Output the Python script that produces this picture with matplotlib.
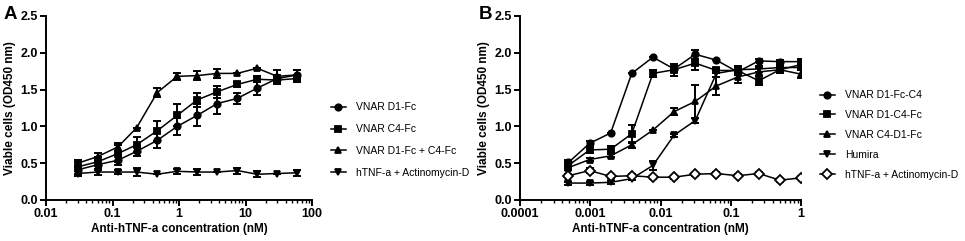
import matplotlib
matplotlib.use("Agg")
import matplotlib.pyplot as plt
from matplotlib.ticker import FuncFormatter, LogLocator

plt.rcParams['font.family'] = ['Liberation Sans', 'DejaVu Sans']

# panel A data
conc_a = [0.03, 0.06, 0.12, 0.23, 0.47, 0.94, 1.88, 3.75, 7.5, 15, 30, 60]
d1_fc = [0.41, 0.48, 0.54, 0.66, 0.81, 1.00, 1.15, 1.31, 1.38, 1.52, 1.65, 1.70]
d1_fc_err = [0.05, 0.07, 0.07, 0.06, 0.10, 0.12, 0.15, 0.14, 0.08, 0.09, 0.05, 0.06]
c4_fc = [0.45, 0.52, 0.63, 0.75, 0.94, 1.15, 1.36, 1.47, 1.57, 1.64, 1.63, 1.65]
c4_fc_err = [0.06, 0.06, 0.12, 0.10, 0.14, 0.15, 0.10, 0.08, 0.04, 0.04, 0.06, 0.05]
d1_c4_mix = [0.50, 0.59, 0.72, 0.98, 1.46, 1.68, 1.69, 1.72, 1.72, 1.79, 1.68, 1.70]
d1_c4_mix_err = [0.05, 0.05, 0.05, 0.0, 0.06, 0.05, 0.06, 0.06, 0.0, 0.0, 0.08, 0.07]
actd_a = [0.36, 0.38, 0.38, 0.38, 0.35, 0.39, 0.38, 0.38, 0.40, 0.35, 0.36, 0.37]
actd_a_err = [0.03, 0.04, 0.03, 0.05, 0.0, 0.03, 0.04, 0.0, 0.04, 0.04, 0.0, 0.04]
labels_a = ["VNAR D1-Fc", "VNAR C4-Fc", "VNAR D1-Fc + C4-Fc", "hTNF-a + Actinomycin-D"]

# panel B data
conc_b = [0.00049, 0.00098, 0.00195, 0.0039, 0.0078, 0.0156, 0.03125, 0.0625, 0.125, 0.25, 0.5, 1.0]
d1_fc_c4 = [0.51, 0.77, 0.91, 1.72, 1.94, 1.78, 1.98, 1.90, 1.74, 1.89, 1.88, 1.88]
d1_fc_c4_err = [0.03, 0.03, 0.0, 0.0, 0.0, 0.04, 0.06, 0.0, 0.03, 0.02, 0.02, 0.03]
d1_c4_fc = [0.47, 0.68, 0.69, 0.90, 1.72, 1.77, 1.86, 1.76, 1.76, 1.62, 1.77, 1.84]
d1_c4_fc_err = [0.04, 0.04, 0.04, 0.12, 0.05, 0.08, 0.09, 0.04, 0.06, 0.06, 0.05, 0.05]
c4_d1_fc = [0.44, 0.55, 0.60, 0.75, 0.95, 1.20, 1.34, 1.55, 1.67, 1.74, 1.77, 1.71]
c4_d1_fc_err = [0.03, 0.02, 0.02, 0.04, 0.0, 0.05, 0.22, 0.12, 0.08, 0.05, 0.05, 0.05]
humira = [0.23, 0.23, 0.24, 0.29, 0.47, 0.88, 1.08, 1.72, 1.77, 1.78, 1.80, 1.80]
humira_err = [0.02, 0.02, 0.02, 0.02, 0.06, 0.02, 0.04, 0.05, 0.05, 0.04, 0.04, 0.04]
actd_b = [0.33, 0.40, 0.32, 0.33, 0.31, 0.31, 0.35, 0.36, 0.33, 0.36, 0.27, 0.30]
actd_b_err = [0.02, 0.03, 0.02, 0.02, 0.02, 0.02, 0.02, 0.02, 0.02, 0.02, 0.02, 0.02]
labels_b = ["VNAR D1-Fc-C4", "VNAR D1-C4-Fc", "VNAR C4-D1-Fc", "Humira", "hTNF-a + Actinomycin-D"]


def style_axis(ax, xmin, xmax):
    ax.set_xscale("log")
    ax.set_xlim(xmin, xmax)
    ax.set_ylim(0, 2.5)
    ax.set_yticks([0, 0.5, 1.0, 1.5, 2.0, 2.5])
    ax.yaxis.set_major_formatter(FuncFormatter(lambda v, p: "%.1f" % v))
    ax.xaxis.set_major_formatter(FuncFormatter(lambda v, p: "%g" % v))
    ax.xaxis.set_minor_locator(LogLocator(base=10, subs=range(2, 10), numticks=20))
    ax.spines["top"].set_visible(False)
    ax.spines["right"].set_visible(False)
    ax.spines["left"].set_linewidth(1.4)
    ax.spines["bottom"].set_linewidth(1.4)
    ax.tick_params(which="major", length=4, width=1.4, labelsize=9, pad=2)
    ax.tick_params(which="minor", length=2.5, width=1.0)
    for t in ax.get_xticklabels() + ax.get_yticklabels():
        t.set_fontweight("bold")
    ax.set_xlabel("Anti-hTNF-a concentration (nM)", fontsize=8.5, fontweight="bold", labelpad=2)
    ax.set_ylabel("Viable cells (OD450 nm)", fontsize=8.5, fontweight="bold", labelpad=3)


def draw(ax, x, y, err, marker, label, face="black", ms=4.6):
    ax.errorbar(x, y, yerr=err, fmt="none", ecolor="black", elinewidth=1.4, capsize=3, capthick=1.4)
    ax.plot(x, y, color="black", lw=1.1, marker=marker, ms=ms, mfc=face, mec="black", mew=1.3, label=label)


fig = plt.figure(figsize=(9.65, 2.41), dpi=100)
ax1 = fig.add_axes([46 / 965, 41 / 241, 266 / 965, 184 / 241])
ax2 = fig.add_axes([520 / 965, 41 / 241, 281 / 965, 184 / 241])

draw(ax1, conc_a, d1_fc, d1_fc_err, "o", labels_a[0])
draw(ax1, conc_a, c4_fc, c4_fc_err, "s", labels_a[1])
draw(ax1, conc_a, d1_c4_mix, d1_c4_mix_err, "^", labels_a[2])
draw(ax1, conc_a, actd_a, actd_a_err, "v", labels_a[3])
style_axis(ax1, 0.01, 100)

draw(ax2, conc_b, d1_fc_c4, d1_fc_c4_err, "o", labels_b[0])
draw(ax2, conc_b, d1_c4_fc, d1_c4_fc_err, "s", labels_b[1])
draw(ax2, conc_b, c4_d1_fc, c4_d1_fc_err, "^", labels_b[2])
draw(ax2, conc_b, humira, humira_err, "v", labels_b[3])
draw(ax2, conc_b, actd_b, actd_b_err, "D", labels_b[4], face="white", ms=4.6)
style_axis(ax2, 0.0001, 1)

leg_kw = dict(frameon=False, fontsize=7.5, handlelength=1.4, handletextpad=1.0,
              borderaxespad=0, loc="upper left")
fig.legend(*ax1.get_legend_handles_labels(), bbox_to_anchor=(327 / 965, 1 - 98 / 241),
           labelspacing=1.15, **leg_kw)
fig.legend(*ax2.get_legend_handles_labels(), bbox_to_anchor=(816 / 965, 1 - 86 / 241),
           labelspacing=0.95, **leg_kw)

fig.text(4 / 965, 1 - 19 / 241, "A", fontsize=13.5, fontweight="bold")
fig.text(479 / 965, 1 - 19 / 241, "B", fontsize=13.5, fontweight="bold")

fig.savefig("out.png", dpi=100)
